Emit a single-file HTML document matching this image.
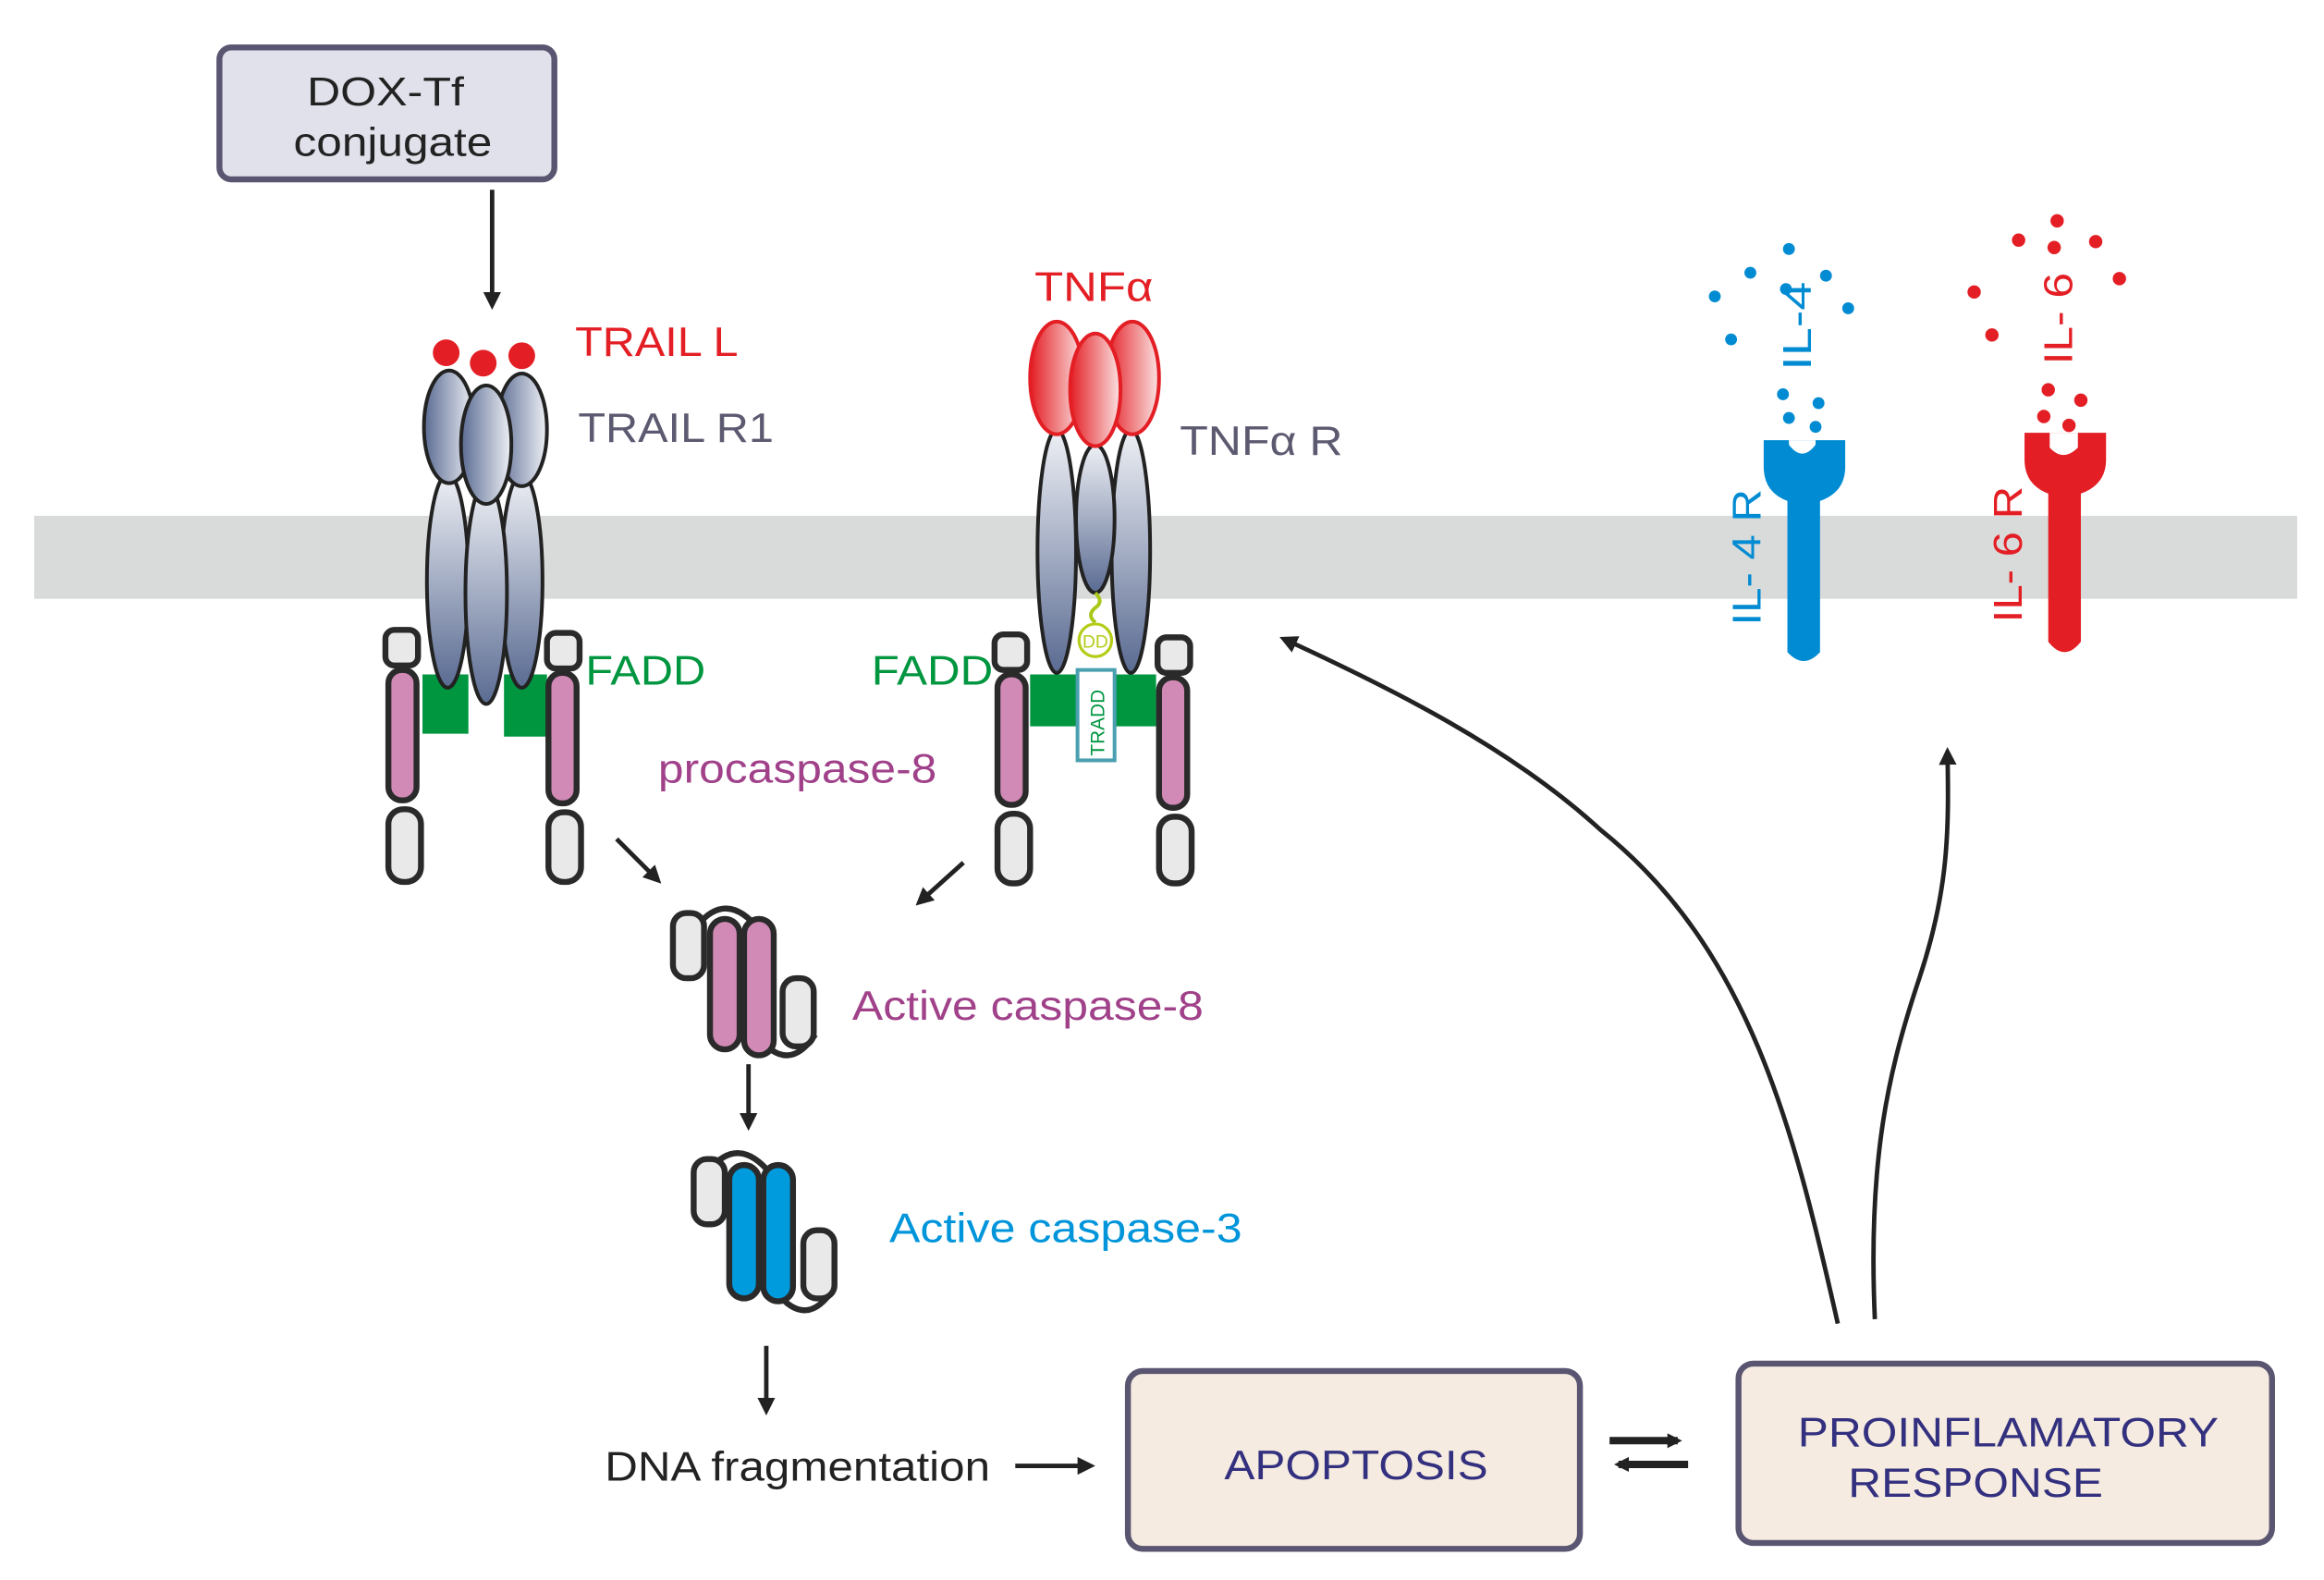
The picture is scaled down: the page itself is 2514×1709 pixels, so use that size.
<!DOCTYPE html>
<html><head><meta charset="utf-8"><style>
html,body{margin:0;padding:0;background:#fff;}
svg{display:block;}
text{font-family:"Liberation Sans",sans-serif;}
</style></head><body>
<svg width="2514" height="1709" viewBox="0 0 1568 1066" xmlns="http://www.w3.org/2000/svg">
<defs>
<linearGradient id="gb" x1="0" y1="0" x2="0" y2="1"><stop offset="0" stop-color="#eef0f5"/><stop offset="1" stop-color="#5a6b92"/></linearGradient>
<linearGradient id="gh" x1="0" y1="0" x2="1" y2="0"><stop offset="0" stop-color="#5a6b92"/><stop offset="1" stop-color="#eef0f5"/></linearGradient>
<linearGradient id="gr" x1="0" y1="0" x2="1" y2="0"><stop offset="0" stop-color="#e31e24"/><stop offset="1" stop-color="#fbe3e3"/></linearGradient>
<marker id="ah" markerWidth="10" markerHeight="10" refX="7" refY="5" orient="auto" markerUnits="userSpaceOnUse"><path d="M0,0 L10,5 L0,10 z" fill="#222"/></marker>
<marker id="ah2" markerWidth="12" markerHeight="12" refX="9" refY="6" orient="auto" markerUnits="userSpaceOnUse"><path d="M0,0 L12,6 L0,12 z" fill="#222"/></marker>
</defs>
<rect width="1568" height="1066" fill="#fff"/>
<rect x="23" y="348" width="1527" height="56" fill="#d9dbda"/>

<rect x="148" y="32" width="226" height="89" rx="8" fill="#e1e1ec" stroke="#5a5570" stroke-width="4"/>
<text x="207" y="71" font-size="27" textLength="106" lengthAdjust="spacingAndGlyphs" fill="#222">DOX-Tf</text>
<text x="198" y="105" font-size="27" textLength="134" lengthAdjust="spacingAndGlyphs" fill="#222">conjugate</text>
<line x1="332" y1="128" x2="332" y2="206" stroke="#222" stroke-width="3" marker-end="url(#ah2)"/>

<circle cx="301" cy="238" r="9" fill="#e31e24"/><circle cx="326" cy="245" r="9" fill="#e31e24"/><circle cx="352" cy="240" r="9" fill="#e31e24"/>
<text x="388" y="240" font-size="28" textLength="110" lengthAdjust="spacingAndGlyphs" fill="#e31e24">TRAIL L</text>
<text x="390" y="298" font-size="28" textLength="132" lengthAdjust="spacingAndGlyphs" fill="#5c5a70">TRAIL R1</text>
<g stroke="#222" stroke-width="2.5">
<path d="M285,455 L316,455 L316,495 L285,495 z" fill="#009640" stroke="none"/>
<path d="M340,455 L369,455 L369,497 L340,497 z" fill="#009640" stroke="none"/>
<ellipse cx="302" cy="392" rx="14" ry="72" fill="url(#gb)"/>
<ellipse cx="352" cy="392" rx="14" ry="72" fill="url(#gb)"/>
<ellipse cx="328" cy="400" rx="14" ry="75" fill="url(#gb)"/>
<ellipse cx="303" cy="288" rx="17" ry="38" fill="url(#gh)"/>
<ellipse cx="352" cy="290" rx="17" ry="38" fill="url(#gh)"/>
<ellipse cx="328" cy="300" rx="17" ry="40" fill="url(#gh)"/>
</g>
<g stroke="#2a2a2a" stroke-width="4">
<rect x="260" y="425" width="22" height="24" rx="6" fill="#e8e9e8"/>
<rect x="262" y="452" width="19" height="88" rx="9" fill="#d18ab6"/>
<rect x="262" y="546" width="22" height="49" rx="10" fill="#e8e9e8"/>
<rect x="369" y="427" width="22" height="24" rx="6" fill="#e8e9e8"/>
<rect x="370" y="454" width="19" height="88" rx="9" fill="#d18ab6"/>
<rect x="370" y="548" width="22" height="47" rx="10" fill="#e8e9e8"/>
</g>
<text x="395" y="462" font-size="28" textLength="81" lengthAdjust="spacingAndGlyphs" fill="#009640">FADD</text>
<text x="444" y="528" font-size="28" textLength="188" lengthAdjust="spacingAndGlyphs" fill="#a0418a">procaspase-8</text>

<text x="698" y="203" font-size="28" textLength="80" lengthAdjust="spacingAndGlyphs" fill="#e31e24">TNFα</text>
<text x="796" y="307" font-size="28" textLength="110" lengthAdjust="spacingAndGlyphs" fill="#5c5a70">TNFα R</text>
<path d="M695,455 L780,455 L780,490 L695,490 z" fill="#009640"/>
<g stroke="#222" stroke-width="2.5">
<ellipse cx="713" cy="372" rx="13" ry="82" fill="url(#gb)"/>
<ellipse cx="763" cy="372" rx="13" ry="82" fill="url(#gb)"/>
<ellipse cx="739" cy="350" rx="13" ry="50" fill="url(#gb)"/>
<ellipse cx="713" cy="255" rx="18" ry="38" fill="url(#gr)" stroke="#e31e24"/>
<ellipse cx="764" cy="255" rx="18" ry="38" fill="url(#gr)" stroke="#e31e24"/>
<ellipse cx="739" cy="263" rx="17" ry="38" fill="url(#gr)" stroke="#e31e24"/>
</g>
<path d="M739,400 q6,6 0,10 q-6,5 0,10" fill="none" stroke="#a8c81a" stroke-width="2.5"/>
<circle cx="739" cy="432" r="11" fill="#fff" stroke="#b5cc18" stroke-width="2"/>
<text x="739" y="437" font-size="12" text-anchor="middle" fill="#b5cc18">DD</text>
<rect x="727" y="452" width="25" height="61" fill="#fff" stroke="#4aa0b0" stroke-width="2.5"/>
<text transform="translate(745,510) rotate(-90)" font-size="13" fill="#009640">TRADD</text>
<g stroke="#2a2a2a" stroke-width="4">
<rect x="671" y="428" width="22" height="24" rx="6" fill="#e8e9e8"/>
<rect x="673" y="455" width="19" height="88" rx="9" fill="#d18ab6"/>
<rect x="673" y="549" width="22" height="47" rx="10" fill="#e8e9e8"/>
<rect x="781" y="430" width="22" height="24" rx="6" fill="#e8e9e8"/>
<rect x="782" y="457" width="19" height="88" rx="9" fill="#d18ab6"/>
<rect x="782" y="551" width="22" height="45" rx="10" fill="#e8e9e8"/>
</g>
<text x="588" y="462" font-size="28" textLength="82" lengthAdjust="spacingAndGlyphs" fill="#009640">FADD</text>

<line x1="416" y1="566" x2="444" y2="594" stroke="#222" stroke-width="3" marker-end="url(#ah2)"/>
<line x1="650" y1="582" x2="620" y2="609" stroke="#222" stroke-width="3" marker-end="url(#ah2)"/>

<g stroke="#2a2a2a" stroke-width="4">
<path d="M470,625 q20,-25 42,2" fill="none"/>
<path d="M512,700 q20,25 38,-2" fill="none"/>
<rect x="454" y="616" width="21" height="44" rx="9" fill="#e8e9e8"/>
<rect x="479" y="620" width="20" height="88" rx="10" fill="#d18ab6"/>
<rect x="502" y="620" width="20" height="92" rx="10" fill="#d18ab6"/>
<rect x="528" y="660" width="21" height="46" rx="9" fill="#e8e9e8"/>
</g>
<text x="575" y="688" font-size="28" textLength="237" lengthAdjust="spacingAndGlyphs" fill="#a0418a">Active caspase-8</text>
<line x1="505" y1="718" x2="505" y2="760" stroke="#222" stroke-width="3" marker-end="url(#ah2)"/>

<g stroke="#2a2a2a" stroke-width="4">
<path d="M478,790 q20,-25 42,2" fill="none"/>
<path d="M524,872 q20,25 38,-2" fill="none"/>
<rect x="468" y="782" width="21" height="44" rx="9" fill="#e8e9e8"/>
<rect x="492" y="786" width="20" height="90" rx="10" fill="#009bdc"/>
<rect x="515" y="786" width="20" height="92" rx="10" fill="#009bdc"/>
<rect x="542" y="830" width="21" height="46" rx="9" fill="#e8e9e8"/>
</g>
<text x="600" y="838" font-size="28" textLength="238" lengthAdjust="spacingAndGlyphs" fill="#0095da">Active caspase-3</text>
<line x1="517" y1="908" x2="517" y2="952" stroke="#222" stroke-width="3" marker-end="url(#ah2)"/>

<text x="408" y="999" font-size="28" textLength="260" lengthAdjust="spacingAndGlyphs" fill="#222">DNA fragmentation</text>
<line x1="685" y1="989" x2="736" y2="989" stroke="#222" stroke-width="3" marker-end="url(#ah2)"/>

<rect x="761" y="925" width="305" height="120" rx="10" fill="#f5ebe0" stroke="#5a5570" stroke-width="4"/>
<text x="826" y="998" font-size="28" textLength="178" lengthAdjust="spacingAndGlyphs" fill="#33307f">APOPTOSIS</text>
<rect x="1173" y="920" width="360" height="121" rx="10" fill="#f5ebe0" stroke="#5a5570" stroke-width="4"/>
<text x="1213" y="976" font-size="28" textLength="284" lengthAdjust="spacingAndGlyphs" fill="#33307f">PROINFLAMATORY</text>
<text x="1247" y="1010" font-size="28" textLength="172" lengthAdjust="spacingAndGlyphs" fill="#33307f">RESPONSE</text>
<line x1="1086" y1="972" x2="1132" y2="972" stroke="#222" stroke-width="5" marker-end="url(#ah)"/>
<line x1="1139" y1="988" x2="1092" y2="988" stroke="#222" stroke-width="5" marker-end="url(#ah)"/>

<path d="M1240,893 C1210,760 1180,640 1080,560 C1020,505 940,465 866,431" fill="none" stroke="#222" stroke-width="3" marker-end="url(#ah2)"/>
<path d="M1265,890 C1260,780 1275,720 1295,660 C1315,600 1315,560 1314,507" fill="none" stroke="#222" stroke-width="3" marker-end="url(#ah2)"/>

<path d="M1190,297 L1245,297 L1245,315 Q1245,332 1228,338 L1228,440 Q1217,452 1206,440 L1206,338 Q1190,332 1190,315 z" fill="#008bd2"/>
<path d="M1207,297 L1225,297 L1225,300 Q1216,312 1207,300 z" fill="#fff"/>
<text transform="translate(1188,422) rotate(-90)" font-size="27" textLength="92" lengthAdjust="spacingAndGlyphs" fill="#008bd2">IL- 4 R</text>
<text transform="translate(1222,250) rotate(-90)" font-size="27" textLength="60" lengthAdjust="spacingAndGlyphs" fill="#008bd2">IL-4</text>
<g fill="#008bd2">
<circle cx="1157" cy="200" r="4"/><circle cx="1181" cy="184" r="4"/><circle cx="1207" cy="168" r="4"/><circle cx="1205" cy="195" r="4"/><circle cx="1232" cy="186" r="4"/><circle cx="1247" cy="208" r="4"/><circle cx="1168" cy="229" r="4"/><circle cx="1207" cy="282" r="4"/><circle cx="1227" cy="272" r="4"/><circle cx="1203" cy="266" r="4"/><circle cx="1225" cy="288" r="4"/></g>

<path d="M1366,292 L1421,292 L1421,310 Q1421,327 1404,333 L1404,433 Q1393,447 1382,433 L1382,333 Q1366,327 1366,310 z" fill="#e31e24"/>
<path d="M1383,292 L1402,292 L1402,302 Q1392,312 1383,302 z" fill="#fff"/>
<text transform="translate(1364,420) rotate(-90)" font-size="27" textLength="92" lengthAdjust="spacingAndGlyphs" fill="#e31e24">IL- 6 R</text>
<text transform="translate(1398,246) rotate(-90)" font-size="27" textLength="62" lengthAdjust="spacingAndGlyphs" fill="#e31e24">IL- 6</text>
<g fill="#e31e24">
<circle cx="1388" cy="149" r="4.5"/><circle cx="1362" cy="162" r="4.5"/><circle cx="1386" cy="167" r="4.5"/><circle cx="1414" cy="163" r="4.5"/><circle cx="1430" cy="188" r="4.5"/><circle cx="1332" cy="197" r="4.5"/><circle cx="1344" cy="226" r="4.5"/><circle cx="1382" cy="263" r="4.5"/><circle cx="1404" cy="270" r="4.5"/><circle cx="1379" cy="281" r="4.5"/><circle cx="1396" cy="287" r="4.5"/></g>
</svg>
</body></html>
